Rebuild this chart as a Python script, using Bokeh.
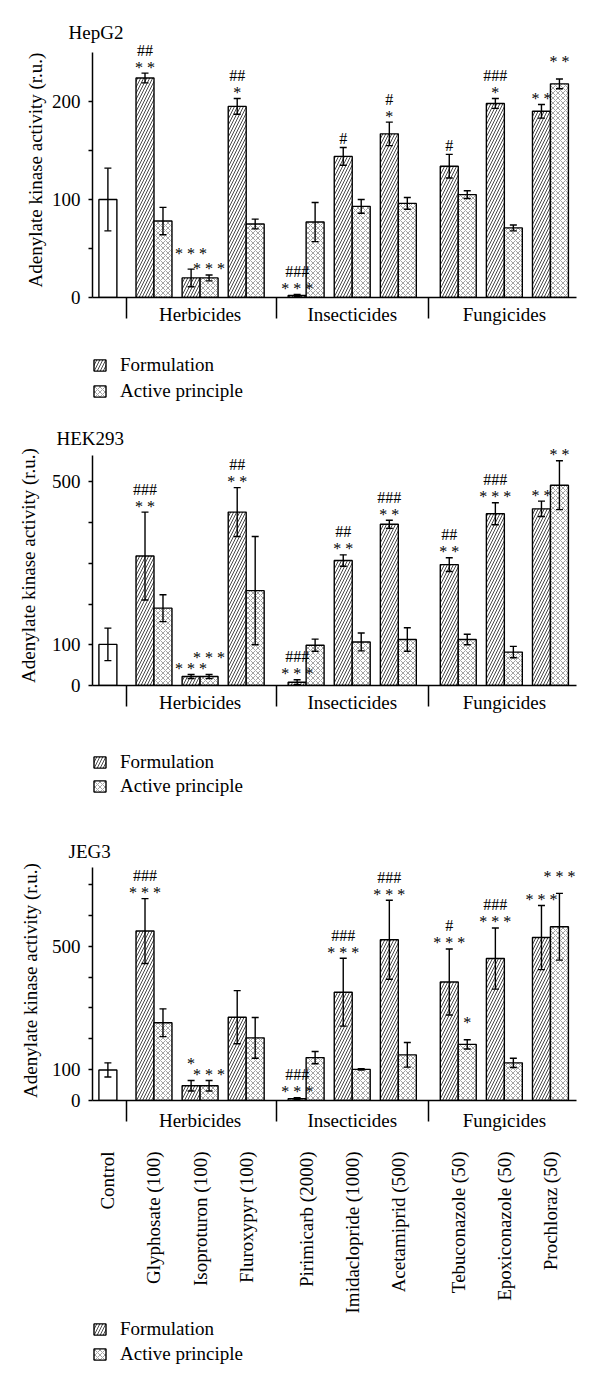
import math
from bokeh.plotting import figure
from bokeh.models import (ColumnDataSource, FixedTicker, Range1d, Whisker, TeeHead,
                          Legend, LegendItem, LinearAxis)
from bokeh.layouts import column
from bokeh.embed import file_html
from bokeh.resources import INLINE
from bokeh.core.properties import value, field

FONT = "Liberation Serif"

# ---------------- data ----------------
groups = ["Herbicides", "Insecticides", "Fungicides"]
compounds = ["Glyphosate (100)", "Isoproturon (100)", "Fluroxypyr (100)",
             "Pirimicarb (2000)", "Imidaclopride (1000)", "Acetamiprid (500)",
             "Tebuconazole (50)", "Epoxiconazole (50)", "Prochloraz (50)"]
compound_group = [0, 0, 0, 1, 1, 1, 2, 2, 2]
control_label = "Control"
series_labels = ["Formulation", "Active principle"]
y_label = "Adenylate kinase activity (r.u.)"
panel_names = ["HepG2", "HEK293", "JEG3"]

# HepG2
hepg2_control = [100]
hepg2_control_err = [32]
hepg2_form = [224, 20, 195, 2, 144, 167, 134, 198, 190]
hepg2_form_err = [5, 9, 8, 1, 9, 12, 12, 5, 7]
hepg2_act = [78, 20, 75, 77, 93, 96, 105, 71, 218]
hepg2_act_err = [14, 3, 5, 20, 7, 6, 4, 3, 5]
hepg2_form_star = ["**", "***", "*", "***", "", "*", "", "*", "**"]
hepg2_form_hash = ["##", "", "##", "###", "#", "#", "#", "###", ""]
hepg2_act_star = ["", "***", "", "", "", "", "", "", "**"]
hepg2_yticks = [0, 100, 200]
hepg2_yminor = [50, 150]
hepg2_ytop = 250

# HEK293
hek_control = [101]
hek_control_err = [40]
hek_form = [318, 22, 426, 8, 307, 396, 297, 422, 434]
hek_form_err = [108, 5, 60, 6, 14, 10, 17, 27, 19]
hek_act = [190, 22, 233, 99, 107, 113, 113, 82, 492]
hek_act_err = [33, 5, 133, 15, 22, 29, 13, 14, 60]
hek_form_star = ["**", "***", "**", "***", "**", "**", "**", "***", "**"]
hek_form_hash = ["###", "", "##", "###", "##", "###", "##", "###", ""]
hek_act_star = ["", "***", "", "", "", "", "", "", "**"]
hek_yticks = [0, 100, 500]
hek_yminor = [200, 300, 400]
hek_ytop = 565

# JEG3
jeg_control = [99]
jeg_control_err = [23]
jeg_form = [549, 48, 270, 6, 351, 521, 384, 460, 528]
jeg_form_err = [105, 17, 86, 3, 110, 128, 107, 99, 104]
jeg_act = [252, 48, 203, 139, 101, 148, 182, 122, 563]
jeg_act_err = [45, 17, 66, 20, 2, 40, 15, 15, 108]
jeg_form_star = ["***", "*", "", "***", "***", "***", "***", "***", "***"]
jeg_form_hash = ["###", "", "", "###", "###", "###", "#", "###", ""]
jeg_act_star = ["", "***", "", "", "", "", "*", "", "***"]
jeg_yticks = [0, 100, 500]
jeg_yminor = [200, 300, 400, 600, 700]
jeg_ytop = 755

# ---------------- styling / layout ----------------
W = 600
FRAME_LEFT = 92
FRAME_RIGHT = 576
X_RANGE = (-0.334, 10.165)
BW = 0.39
GROUP_STEP = 3.3
F_STYLE = dict(fill_color="white", line_color="black", line_width=1.4,
               hatch_pattern="/", hatch_scale=6, hatch_weight=0.9, hatch_color="#333333")
A_STYLE = dict(fill_color="white", line_color="black", line_width=1.4,
               hatch_pattern="x", hatch_scale=5, hatch_weight=0.6, hatch_color="#666666")


def pair_centers():
    out = []
    count = {}
    for g in compound_group:
        j = count.get(g, 0)
        count[g] = j + 1
        out.append(round(1 + g * GROUP_STEP + j, 4))
    return out


def spaced(s):
    return " ".join(list(s))


def make_panel(name, ctrl, ctrl_err, form, form_err, act, act_err,
               f_star, f_hash, a_star, yticks, yminor, ytop, geo, show_compounds):
    centers = pair_centers()
    fx = [c - BW / 2 for c in centers]
    ax = [c + BW / 2 for c in centers]

    H = geo["height"]
    top = geo["top"]
    zero = geo["zero"] - top          # canvas coordinates
    ftop = geo["frame_top"] - top
    k = (geo["zero"] - geo["axis_top_px"]) / ytop
    y_end = (zero - ftop) / k
    xs, xe = X_RANGE

    p = figure(width=W, height=H, x_range=Range1d(xs, xe), y_range=Range1d(0, y_end),
               output_backend="svg", toolbar_location=None,
               min_border_left=FRAME_LEFT, min_border_right=W - FRAME_RIGHT,
               min_border_top=ftop, min_border_bottom=H - zero)
    p.xgrid.visible = False
    p.ygrid.visible = False
    p.outline_line_color = None

    # panel title, left of the y axis
    p.title.text = name
    p.title.align = "left"
    p.title.offset = geo["title_x"] - FRAME_LEFT
    p.title.standoff = geo["title_standoff"]
    p.title.text_font = FONT
    p.title.text_font_size = "19px"
    p.title.text_font_style = "normal"
    p.title.text_color = "black"

    src_c = ColumnDataSource(dict(x=[0.0], top=ctrl, up=[v + e for v, e in zip(ctrl, ctrl_err)],
                                  lo=[v - e for v, e in zip(ctrl, ctrl_err)]))
    src_f = ColumnDataSource(dict(x=fx, top=form, up=[v + e for v, e in zip(form, form_err)],
                                  lo=[max(v - e, 0) for v, e in zip(form, form_err)]))
    src_a = ColumnDataSource(dict(x=ax, top=act, up=[v + e for v, e in zip(act, act_err)],
                                  lo=[max(v - e, 0) for v, e in zip(act, act_err)]))

    p.vbar(x="x", top="top", width=BW, source=src_c, fill_color="white",
           line_color="black", line_width=1.4)
    p.vbar(x="x", top="top", width=BW, source=src_f, **F_STYLE)
    p.vbar(x="x", top="top", width=BW, source=src_a, **A_STYLE)

    for src in (src_c, src_f, src_a):
        p.add_layout(Whisker(source=src, base="x", upper="up", lower="lo", line_width=1.4,
                             line_color="black", level="overlay",
                             upper_head=TeeHead(size=7, line_width=1.4, line_color="black"),
                             lower_head=TeeHead(size=7, line_width=1.4, line_color="black")))

    # significance marks: stars just above the error bar, hashes above the stars
    sx, sy, st, sd = [], [], [], []
    a_hash = [""] * len(act)
    for i in range(len(form)):
        raise_f = raise_a = 0
        if f_star[i] and a_star[i]:
            ft, at = form[i] + form_err[i], act[i] + act_err[i]
            if len(f_star[i]) != len(a_star[i]):
                if len(f_star[i]) < len(a_star[i]):
                    raise_f = 11
                else:
                    raise_a = 11
            elif ft > at:
                raise_f = 10
            else:
                raise_a = 11
        for x, tp, s, h, r in ((fx[i], form[i] + form_err[i], f_star[i], f_hash[i], raise_f),
                               (ax[i], act[i] + act_err[i], a_star[i], a_hash[i], raise_a)):
            row = 0
            ypx = zero - tp * k
            if s:
                dy = -6 - r
                if ypx + dy - 9 < ftop:
                    dy += ftop - (ypx + dy - 9)
                sx.append(x); sy.append(tp); st.append(spaced(s)); sd.append(dy)
                row = 1
            if h:
                sx.append(x); sy.append(tp); st.append(h)
                sd.append(-9 - r if row == 0 else -23 - r)
    src_t = ColumnDataSource(dict(x=sx, y=sy, text=st, dy=sd))
    p.text(x="x", y="y", text="text", source=src_t, y_offset=field("dy"),
           text_font=value(FONT), text_font_size="16px", text_align="center",
           text_baseline="middle", text_color="black")

    # y axis
    ya = p.yaxis[0]
    ya.ticker = FixedTicker(ticks=yticks, minor_ticks=yminor)
    ya.bounds = (0, ytop)
    ya.axis_label = y_label
    ya.axis_label_text_font = FONT
    ya.axis_label_text_font_size = "19px"
    ya.axis_label_text_font_style = "normal"
    ya.axis_label_text_color = "black"
    ya.axis_label_standoff = geo["ylab_standoff"]
    ya.major_label_text_font = FONT
    ya.major_label_text_font_size = "19px"
    ya.major_label_text_color = "black"
    ya.major_label_standoff = 8
    ya.major_tick_out = 4
    ya.major_tick_in = 0
    ya.minor_tick_out = 4
    ya.minor_tick_in = 0
    ya.axis_line_width = 1.5
    ya.major_tick_line_width = 1.5
    ya.minor_tick_line_width = 1.5
    ya.axis_line_color = "black"
    ya.major_tick_line_color = "black"
    ya.minor_tick_line_color = "black"

    # group axis: labels at group centres, separators drawn as long minor ticks
    gcenters = []
    for g in range(len(groups)):
        cs = [c for c, gg in zip(centers, compound_group) if gg == g]
        gcenters.append(round(sum(cs) / len(cs), 4))
    seps = [round((BW / 2 + centers[0] - BW) / 2, 4)]
    for i in range(1, len(centers)):
        if compound_group[i] != compound_group[i - 1]:
            seps.append(round((centers[i - 1] + BW + centers[i] - BW) / 2, 4))
    xa = p.xaxis[0]
    xa.ticker = FixedTicker(ticks=gcenters, minor_ticks=seps)
    xa.major_label_overrides = {c: g for c, g in zip(gcenters, groups)}
    xa.major_tick_out = 0
    xa.major_tick_in = 0
    xa.major_tick_line_color = None
    xa.minor_tick_out = 21
    xa.minor_tick_in = 0
    xa.minor_tick_line_width = 1.5
    xa.minor_tick_line_color = "black"
    xa.axis_line_width = 1.5
    xa.axis_line_color = "black"
    xa.major_label_standoff = geo["group_standoff"]
    xa.major_label_text_font = FONT
    xa.major_label_text_font_size = "19px"
    xa.major_label_text_color = "black"

    if show_compounds:
        ticks = [0.0] + centers
        labels = [control_label] + compounds
        ca = LinearAxis(ticker=FixedTicker(ticks=ticks, minor_ticks=[]),
                        major_label_overrides={t: l for t, l in zip(ticks, labels)},
                        major_label_orientation=math.pi / 2,
                        axis_line_color=None, major_tick_line_color=None,
                        minor_tick_line_color=None, major_tick_out=0, major_tick_in=0,
                        major_label_standoff=geo["cat_standoff"], major_label_text_font=FONT,
                        major_label_text_font_size="19px", major_label_text_color="black")
        p.add_layout(ca, "below")
    return p


def legend_panel(top, H, leg_top, spacing):
    f = figure(width=W, height=H, x_range=Range1d(0, 1), y_range=Range1d(0, 1),
               output_backend="svg", toolbar_location=None, title=None,
               x_axis_type=None, y_axis_type=None,
               min_border_left=FRAME_LEFT, min_border_right=W - FRAME_RIGHT,
               min_border_top=0, min_border_bottom=0)
    f.outline_line_color = None
    lh = 22
    leg_h = 2 * lh + spacing
    # small swatch-source bars hidden under the (opaque) legend box
    y_top = 1 - (leg_top - top + 12) / H
    y_bot = 1 - (leg_top - top + leg_h - 12) / H
    rf = f.vbar(x=[0.03], top=[y_top], bottom=[y_bot], width=0.02, **F_STYLE)
    ra = f.vbar(x=[0.03], top=[y_top], bottom=[y_bot], width=0.02, **A_STYLE)
    lg = Legend(items=[LegendItem(label=series_labels[0], renderers=[rf]),
                       LegendItem(label=series_labels[1], renderers=[ra])],
                location=(0, H - leg_h - (leg_top - top)),
                orientation="vertical", glyph_width=15, glyph_height=14,
                label_standoff=13, label_height=lh, spacing=spacing, padding=0, margin=0,
                label_text_font=FONT, label_text_font_size="19px",
                label_text_color="black", border_line_color=None,
                background_fill_color="white", background_fill_alpha=1.0)
    f.add_layout(lg, "center")
    return f


geo_hepg2 = dict(top=0, height=340, frame_top=42, zero=297, axis_top_px=52,
                 title_x=68, title_standoff=0, ylab_standoff=3, group_standoff=-15)
geo_hek = dict(top=410, height=320, frame_top=445, zero=685, axis_top_px=455,
               title_x=56, title_standoff=-6, ylab_standoff=10, group_standoff=-15)
geo_jeg = dict(top=810, height=508, frame_top=860, zero=1100, axis_top_px=867,
               title_x=68, title_standoff=-2, ylab_standoff=8, group_standoff=-12,
               cat_standoff=18)

p1 = make_panel(panel_names[0], hepg2_control, hepg2_control_err, hepg2_form, hepg2_form_err,
                hepg2_act, hepg2_act_err, hepg2_form_star, hepg2_form_hash, hepg2_act_star,
                hepg2_yticks, hepg2_yminor, hepg2_ytop, geo_hepg2, False)
l1 = legend_panel(340, 70, 354, 4)
p2 = make_panel(panel_names[1], hek_control, hek_control_err, hek_form, hek_form_err,
                hek_act, hek_act_err, hek_form_star, hek_form_hash, hek_act_star,
                hek_yticks, hek_yminor, hek_ytop, geo_hek, False)
l2 = legend_panel(730, 80, 751, 2)
p3 = make_panel(panel_names[2], jeg_control, jeg_control_err, jeg_form, jeg_form_err,
                jeg_act, jeg_act_err, jeg_form_star, jeg_form_hash, jeg_act_star,
                jeg_yticks, jeg_yminor, jeg_ytop, geo_jeg, True)
l3 = legend_panel(1318, 69, 1318, 3)

layout = column(p1, l1, p2, l2, p3, l3, spacing=0)
open("out.html", "w").write(file_html(layout, INLINE))
